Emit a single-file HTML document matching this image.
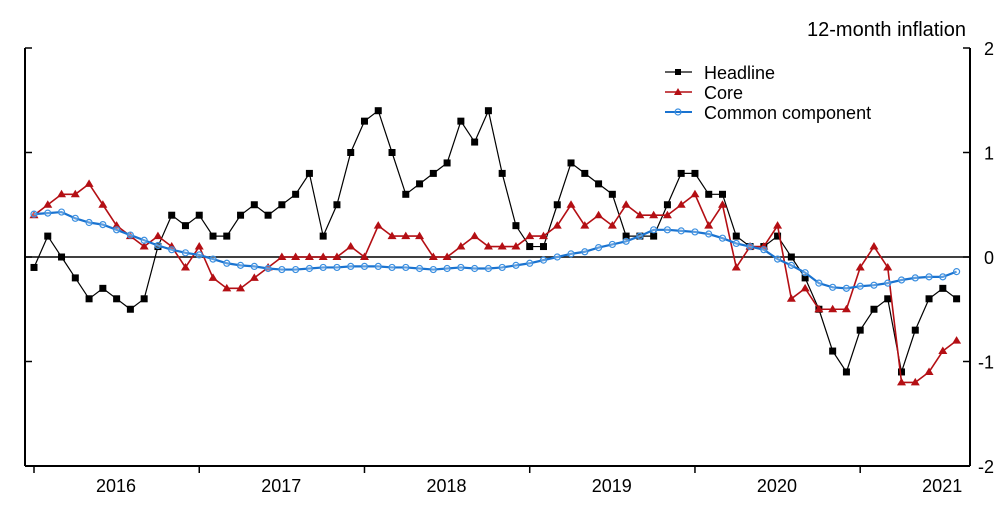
<!DOCTYPE html>
<html><head><meta charset="utf-8"><style>
body{margin:0;background:#fff}
svg text{font-family:"Liberation Sans",Arial,sans-serif;fill:#000}
</style></head><body>
<svg id="chart" width="1000" height="509" xmlns="http://www.w3.org/2000/svg">
<text x="966" y="36" font-size="20" text-anchor="end">12-month inflation</text>
<g id="axes"></g>
<g id="series"></g>
<g>
 <g><line x1="665" y1="72" x2="692" y2="72" stroke="#000" stroke-width="1.2"/><rect x="675" y="69" width="6" height="6" fill="#000"/><text x="704" y="79" font-size="18">Headline</text></g>
 <g><line x1="665" y1="92" x2="692" y2="92" stroke="#b40f14" stroke-width="1.5"/><path d="M678,88 L682,95 L674,95Z" fill="#b40f14"/><text x="704" y="99" font-size="18">Core</text></g>
 <g><line x1="665" y1="112" x2="692" y2="112" stroke="#1a73d0" stroke-width="2"/><circle cx="678" cy="112" r="3" fill="none" stroke="#3b8fe0" stroke-width="1.2"/><text x="704" y="119" font-size="18">Common  component</text></g>
</g>
</svg>
<script>
const years=["2016","2017","2018","2019","2020","2021"];
const yTicks=[2,1,0,-1,-2];
const headline=[-0.1,0.2,0.0,-0.2,-0.4,-0.3,-0.4,-0.5,-0.4,0.1,0.4,0.3,0.4,0.2,0.2,0.4,0.5,0.4,0.5,0.6,0.8,0.2,0.5,1.0,1.3,1.4,1.0,0.6,0.7,0.8,0.9,1.3,1.1,1.4,0.8,0.3,0.1,0.1,0.5,0.9,0.8,0.7,0.6,0.2,0.2,0.2,0.5,0.8,0.8,0.6,0.6,0.2,0.1,0.1,0.2,0.0,-0.2,-0.5,-0.9,-1.1,-0.7,-0.5,-0.4,-1.1,-0.7,-0.4,-0.3,-0.4];
const core=[0.4,0.5,0.6,0.6,0.7,0.5,0.3,0.2,0.1,0.2,0.1,-0.1,0.1,-0.2,-0.3,-0.3,-0.2,-0.1,0,0,0,0,0,0.1,0,0.3,0.2,0.2,0.2,0,0,0.1,0.2,0.1,0.1,0.1,0.2,0.2,0.3,0.5,0.3,0.4,0.3,0.5,0.4,0.4,0.4,0.5,0.6,0.3,0.5,-0.1,0.1,0.1,0.3,-0.4,-0.3,-0.5,-0.5,-0.5,-0.1,0.1,-0.1,-1.2,-1.2,-1.1,-0.9,-0.8];
const common=[0.41,0.42,0.43,0.37,0.33,0.31,0.26,0.21,0.16,0.11,0.07,0.04,0.02,-0.02,-0.06,-0.08,-0.09,-0.11,-0.12,-0.12,-0.11,-0.10,-0.10,-0.09,-0.09,-0.09,-0.10,-0.10,-0.11,-0.12,-0.11,-0.10,-0.11,-0.11,-0.10,-0.08,-0.06,-0.03,0.0,0.03,0.05,0.09,0.12,0.15,0.20,0.26,0.26,0.25,0.24,0.22,0.18,0.13,0.10,0.07,-0.02,-0.08,-0.15,-0.25,-0.29,-0.30,-0.28,-0.27,-0.25,-0.22,-0.20,-0.19,-0.19,-0.14];
const NS="http://www.w3.org/2000/svg";
const X0=34,DX=13.77,Y0=257,DY=104.5,L=25,R=970,T=48,B=466;
const xs=i=>X0+i*DX, ys=v=>Y0-v*DY;
function mk(tag,attrs,parent){const e=document.createElementNS(NS,tag);for(const k in attrs)e.setAttribute(k,attrs[k]);parent.appendChild(e);return e;}
const ax=document.getElementById('axes');
let e=mk('line',{x1:L,y1:T,x2:L,y2:B,stroke:'#000','stroke-width':2},ax);


e=mk('line',{x1:R,y1:T,x2:R,y2:B,stroke:'#000','stroke-width':2},ax);


e=mk('line',{x1:L,y1:B,x2:R,y2:B,stroke:'#000','stroke-width':2},ax);


e=mk('line',{x1:L,y1:Y0,x2:R,y2:Y0,stroke:'#000','stroke-width':1.5},ax);


yTicks.forEach(v=>{
 mk('line',{x1:L,y1:ys(v),x2:L+7,y2:ys(v),stroke:'#000','stroke-width':1.5},ax);
 mk('line',{x1:R-7,y1:ys(v),x2:R,y2:ys(v),stroke:'#000','stroke-width':1.5},ax);
 const t=mk('text',{x:994,y:ys(v)+7,'font-size':18,'text-anchor':'end'},ax);t.textContent=v;
 
 
});
years.forEach((y,i)=>{
 const xt=xs(i*12);
 mk('line',{x1:xt,y1:B,x2:xt,y2:B+7,stroke:'#000','stroke-width':1.5},ax);
 const t=mk('text',{x:xt+82,y:492,'font-size':18,'text-anchor':'middle'},ax);t.textContent=y;
 
 
});
const sg=document.getElementById('series');
function series(data,color,w,name,marker){
 const g=mk('g',{},sg);
 
 
 mk('polyline',{points:data.map((v,i)=>xs(i)+','+ys(v)).join(' '),fill:'none',stroke:color,'stroke-width':w},g);
 data.forEach((v,i)=>{
  const x=xs(i),y=ys(v);
  if(marker==='sq')mk('rect',{x:x-3.5,y:y-3.5,width:7,height:7,fill:'#000'},g);
  else if(marker==='tri')mk('path',{d:`M${x},${y-4.5}L${x+4.5},${y+3}L${x-4.5},${y+3}Z`,fill:color},g);
  else mk('circle',{cx:x,cy:y,r:3,fill:'#fff','fill-opacity':0.3,stroke:'#3b8fe0','stroke-width':1.2},g);
 });
}
series(headline,'#000',1.2,'headline-series','sq');
series(core,'#b40f14',1.6,'core-series','tri');
series(common,'#1a73d0',2.2,'common-component-series','circ');
</script>
</body></html>
